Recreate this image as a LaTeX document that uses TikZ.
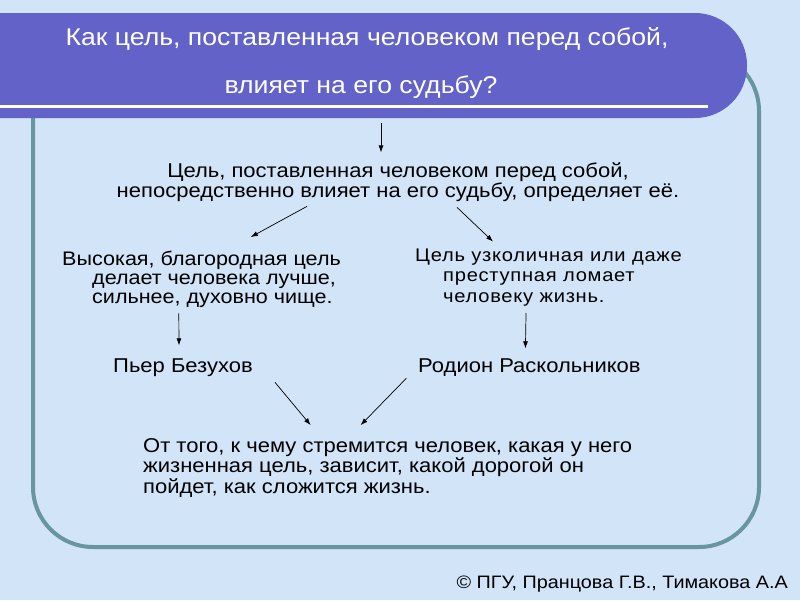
\documentclass[tikz,border=0pt]{standalone}
\usepackage{fontspec}
\setmainfont[FakeStretch=1.1]{Liberation Sans}
\usetikzlibrary{arrows.meta,positioning,calc}
\definecolor{bgblue}{RGB}{210,228,248}
\definecolor{titleblue}{RGB}{98,98,200}
\definecolor{frameteal}{RGB}{104,150,158}

\begin{document}
\begin{tikzpicture}[x=1pt,y=-1pt,
    ttl/.style={anchor=base,inner sep=0pt,text=white,font=\fontsize{24.2}{28}\selectfont},
    txt/.style={inner sep=0pt,text=black,font=\fontsize{20}{19}\selectfont},
    arr/.style={-{Latex[length=7pt,width=5pt]},line width=0.7pt}]
  \useasboundingbox (0,0) rectangle (800,600);
  \fill[bgblue] (0,0) rectangle (800,600);
  % frame and title banner
  \draw[frameteal,line width=4pt,rounded corners=60pt] (33,51) rectangle (759,547);
  \fill[titleblue,rounded corners=52pt] (-80,13) rectangle (747,118);
  \draw[white,line width=3pt] (0,106) -- (708,106);
  \node[ttl] (q1) at (367,45) {Как цель, поставленная человеком перед собой,};
  \node[ttl] (q2) at (361,93) {влияет на его судьбу?};
  \coordinate (banner) at (381,123);

  \node[txt,align=center,anchor=base,font=\fontsize{20}{20}\selectfont] (goal) at (398,197)
    {Цель, поставленная человеком перед собой,\\непосредственно влияет на его судьбу, определяет её.};
  \node[txt,align=left,anchor=base west,font=\fontsize{19.6}{19}\selectfont] (high) at (62,303)
    {Высокая, благородная цель\\\hspace*{30pt}делает человека лучше,\\\hspace*{30pt}сильнее, духовно чище.};
  \node[txt,align=left,anchor=base west,font=\fontsize{18.3}{20.3}\selectfont\addfontfeatures{LetterSpace=4}] (low) at (415,302)
    {Цель узколичная или даже\\\hspace*{28pt}преступная ломает\\\hspace*{28pt}человеку жизнь.};
  \node[txt,anchor=base west] (pierre) at (113,372) {Пьер Безухов};
  \node[txt,anchor=base west] (rodion) at (418,372) {Родион Раскольников};
  \node[txt,align=left,anchor=base west,font=\fontsize{20}{20.5}\selectfont] (concl) at (143,493)
    {От того, к чему стремится человек, какая у него\\жизненная цель, зависит, какой дорогой он\\пойдет, как сложится жизнь.};
  \node[txt,anchor=base east,font=\fontsize{18}{20}\selectfont] (copy) at (788,588)
    {© ПГУ, Пранцова Г.В., Тимакова А.А};

  % arrows
  \draw[arr] (banner) -- ([xshift=-17pt,yshift=9.5pt]goal.north);
  \draw[arr] ([xshift=-91pt,yshift=-5pt]goal.south) -- ([xshift=49.3pt,yshift=13.4pt]high.north);
  \draw[arr] ([xshift=59pt,yshift=-6pt]goal.south) -- ([xshift=-55.5pt,yshift=7pt]low.north);
  \draw[arr] ([xshift=-22.7pt,yshift=-6pt]high.south) -- ([xshift=-4pt,yshift=12.7pt]pierre.north);
  \draw[arr] ([xshift=-22.5pt,yshift=-7pt]low.south) -- ([xshift=-4pt,yshift=9.7pt]rodion.north);
  \draw[arr] ([xshift=92pt,yshift=-6pt]pierre.south) -- ([xshift=-77pt,yshift=12.7pt]concl.north);
  \draw[arr] ([xshift=-123pt,yshift=-2pt]rodion.south) -- ([xshift=-27pt,yshift=12.7pt]concl.north);
\end{tikzpicture}
\end{document}
